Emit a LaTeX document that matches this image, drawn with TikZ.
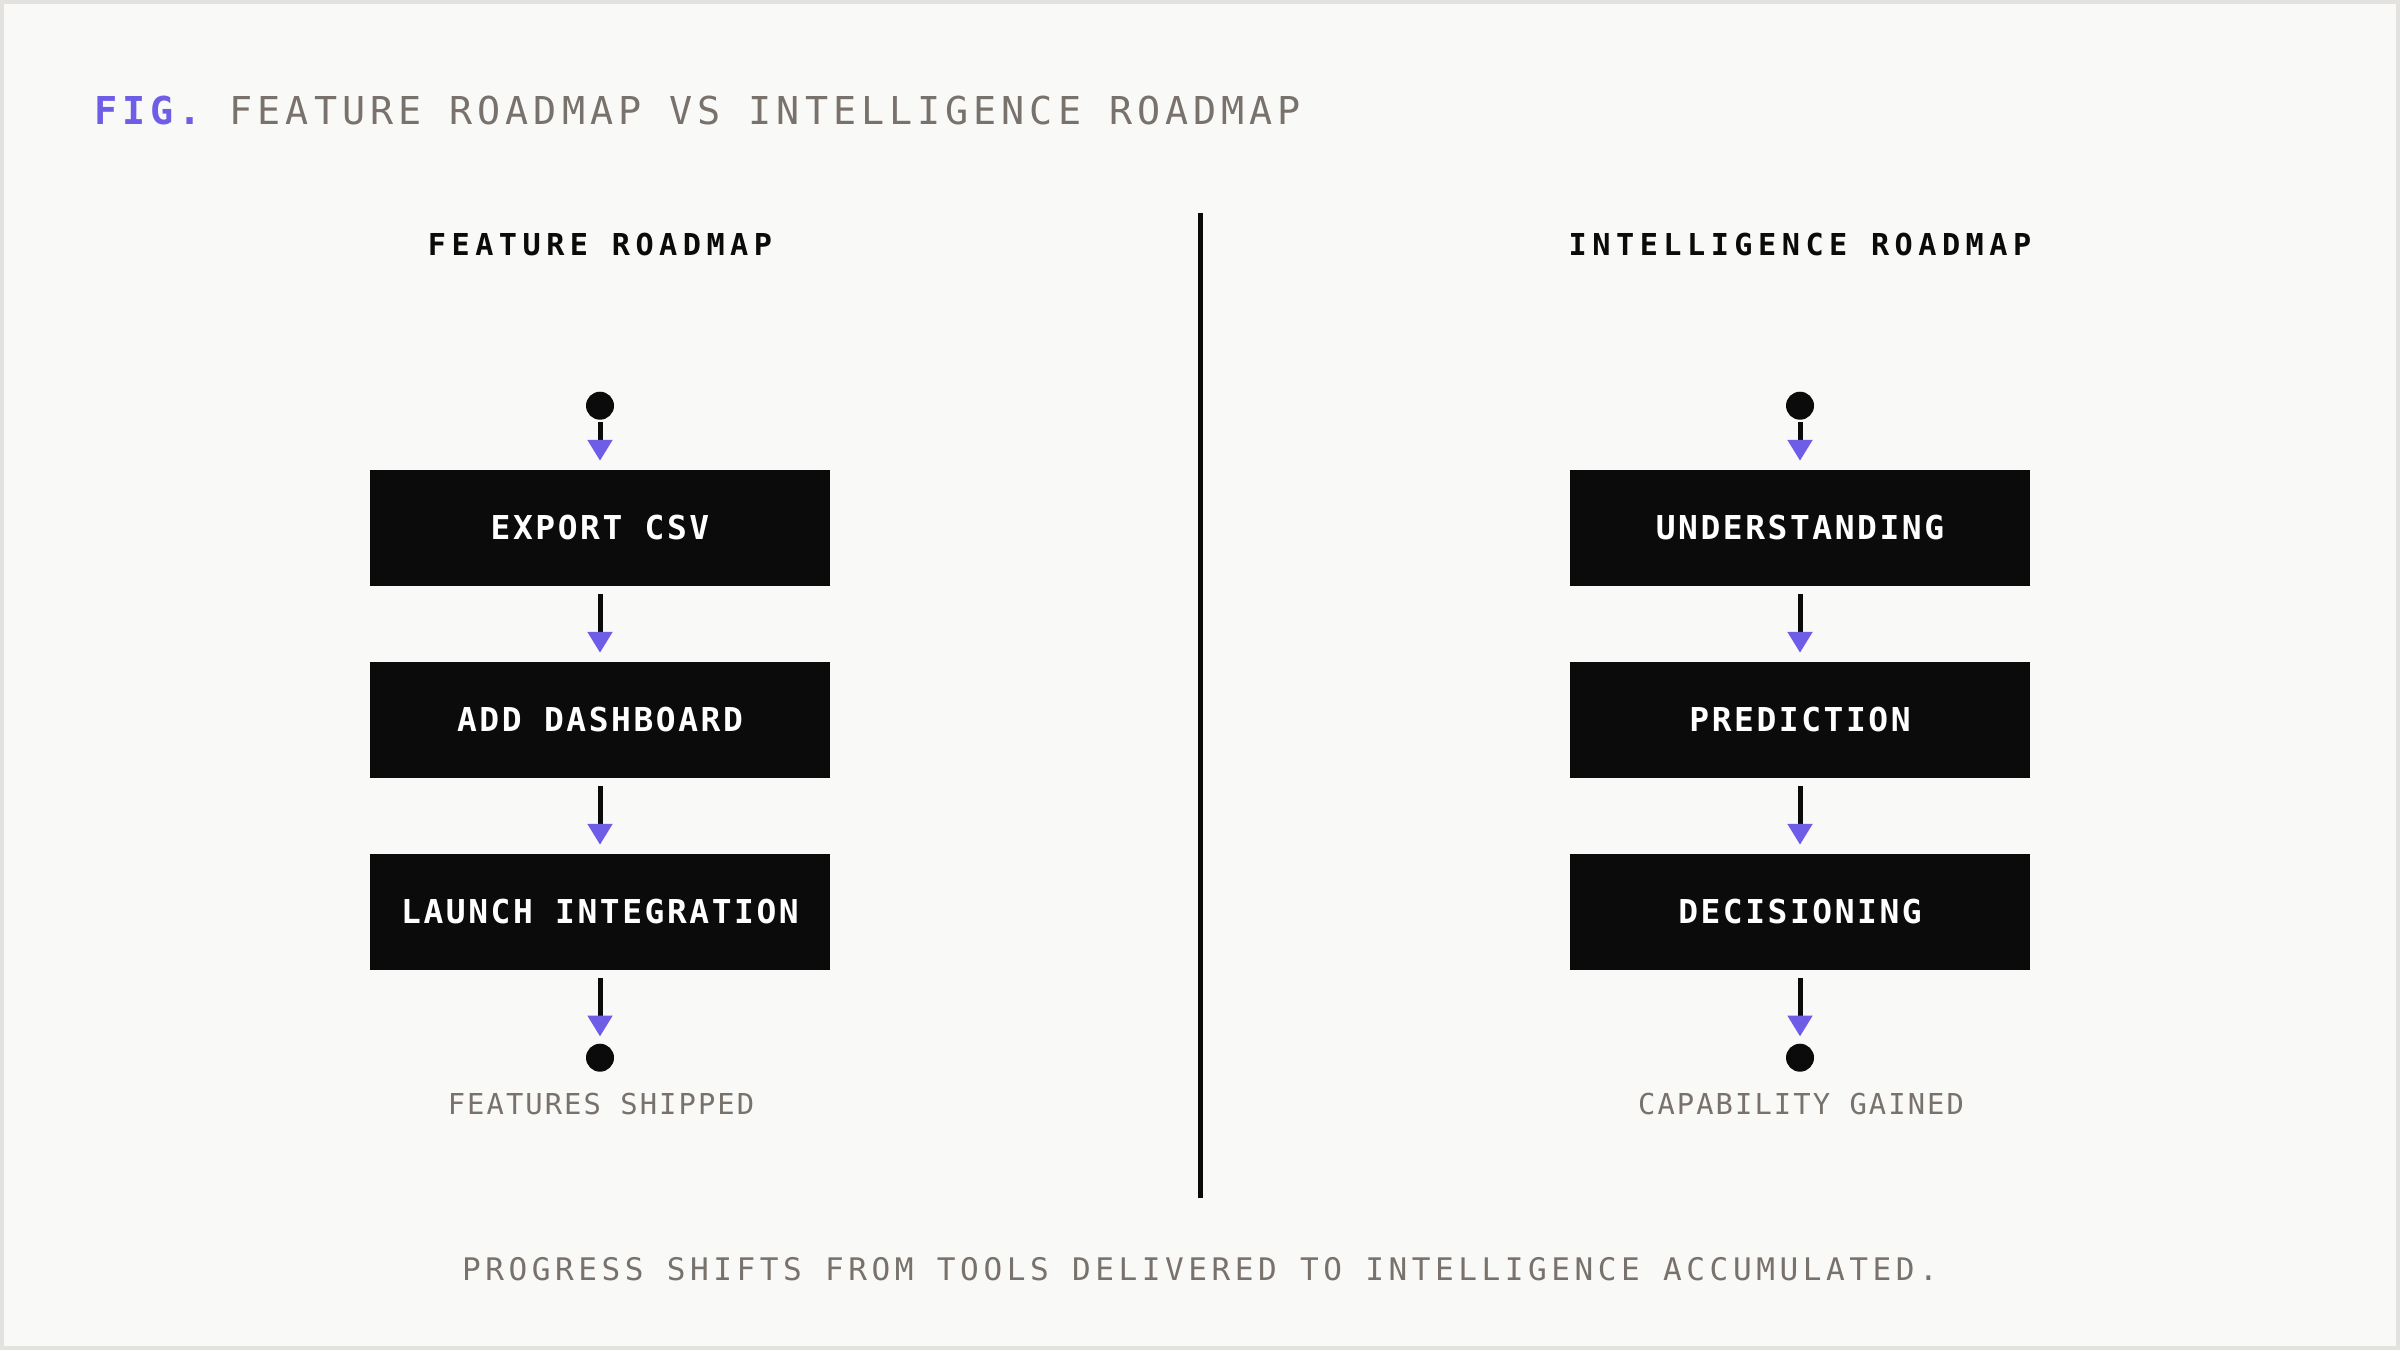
\documentclass[tikz,border=0pt]{standalone}
\usepackage{fontspec}
\setmainfont{DejaVu Sans Mono}
\usetikzlibrary{arrows.meta}
\newfontfamily\titlef{DejaVu Sans Mono}[LetterSpace=13]
\newfontfamily\headf{DejaVu Sans Mono}[LetterSpace=18.2]
\newfontfamily\boxf{DejaVu Sans Mono}[LetterSpace=7.8]
\newfontfamily\subf{DejaVu Sans Mono}[LetterSpace=7.2]
\newfontfamily\botf{DejaVu Sans Mono}[LetterSpace=14.6]
\definecolor{bgc}{HTML}{F9F9F7}
\definecolor{framec}{HTML}{E4E2DF}
\definecolor{accent}{HTML}{6E5DE7}
\definecolor{greyt}{HTML}{78716C}
\definecolor{ink}{HTML}{0B0B0B}
\tikzset{
  stepbox/.style={draw=none, fill=ink, minimum width=460pt, minimum height=116pt, inner sep=0pt,
    text=white, font=\boxf\bfseries\fontsize{32.9}{40}\selectfont},
  dotnode/.style={circle, fill=ink, minimum size=28pt, inner sep=0pt},
  headtext/.style={anchor=base, inner sep=0pt, text=ink, font=\headf\bfseries\fontsize{30.2}{36}\selectfont},
  subtext/.style={anchor=base, inner sep=0pt, text=greyt, font=\subf\fontsize{28.8}{34}\selectfont},
  flow/.style={draw=ink, line width=5pt, -{Triangle[length=21pt, width=24pt, color=accent]}},
}
\begin{document}
\begin{tikzpicture}[x=1pt, y=-1pt]
\fill[framec] (0,0) rectangle (2400,1350);
\fill[bgc] (4,4) rectangle (2396,1346);
\useasboundingbox (0,0) rectangle (2400,1350);

% title
\node[anchor=base west, inner sep=0pt, font=\titlef\fontsize{38.4}{46}\selectfont] (title) at (94,124)
  {\textcolor{accent}{\bfseries FIG.} \textcolor{greyt}{FEATURE ROADMAP VS INTELLIGENCE ROADMAP}};

% divider
\draw[ink, line width=5pt] (1200,213) -- (1200,1198);

% headers
\node[headtext] (hl) at (600,255) {FEATURE ROADMAP};
\node[headtext] (hr) at (1800,255) {INTELLIGENCE ROADMAP};

% left column
\node[dotnode] (ls) at (600,405.7) {};
\node[stepbox] (l1) at (600,528) {EXPORT CSV};
\node[stepbox] (l2) at (600,720) {ADD DASHBOARD};
\node[stepbox] (l3) at (600,912) {LAUNCH INTEGRATION};
\node[dotnode] (le) at (600,1057.7) {};
\node[subtext] (lsub) at (601,1114.5) {FEATURES SHIPPED};

\draw[flow, shorten <=2pt, shorten >=9pt] (ls) -- (l1);
\draw[flow, shorten <=8pt, shorten >=9pt] (l1) -- (l2);
\draw[flow, shorten <=8pt, shorten >=9pt] (l2) -- (l3);
\draw[flow, shorten <=8pt, shorten >=7pt] (l3) -- (le);

% right column
\node[dotnode] (rs) at (1800,405.7) {};
\node[stepbox] (r1) at (1800,528) {UNDERSTANDING};
\node[stepbox] (r2) at (1800,720) {PREDICTION};
\node[stepbox] (r3) at (1800,912) {DECISIONING};
\node[dotnode] (re) at (1800,1057.7) {};
\node[subtext] (rsub) at (1801,1114.5) {CAPABILITY GAINED};

\draw[flow, shorten <=2pt, shorten >=9pt] (rs) -- (r1);
\draw[flow, shorten <=8pt, shorten >=9pt] (r1) -- (r2);
\draw[flow, shorten <=8pt, shorten >=9pt] (r2) -- (r3);
\draw[flow, shorten <=8pt, shorten >=7pt] (r3) -- (re);

% bottom caption
\node[anchor=base, inner sep=0pt, text=greyt, font=\botf\fontsize{31.1}{38}\selectfont] (cap) at (1200,1280)
  {PROGRESS SHIFTS FROM TOOLS DELIVERED TO INTELLIGENCE ACCUMULATED.};
\end{tikzpicture}
\end{document}
